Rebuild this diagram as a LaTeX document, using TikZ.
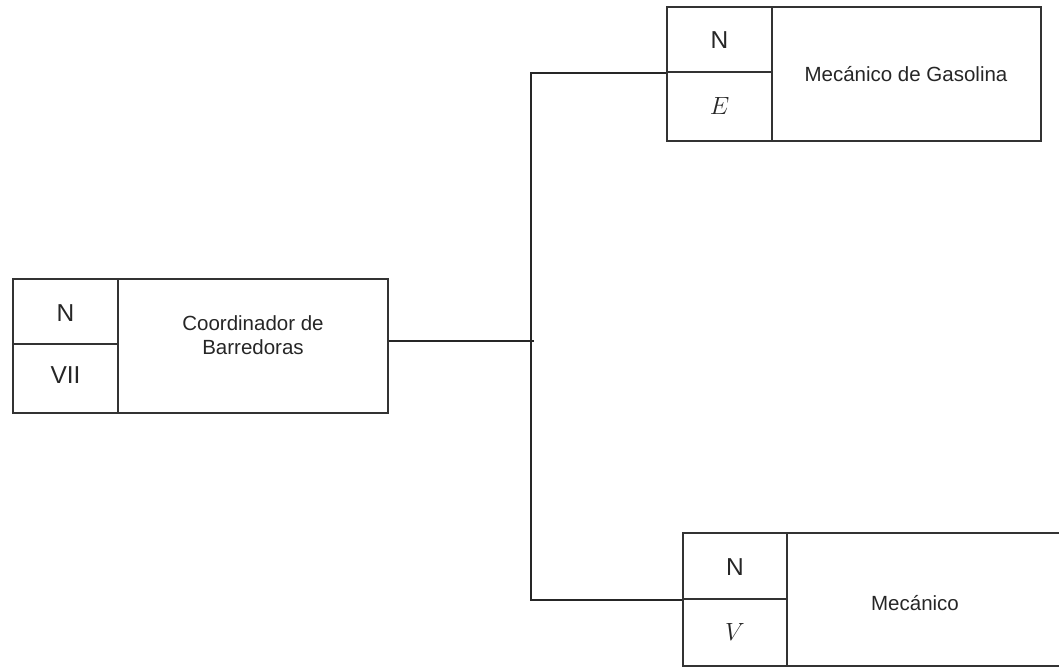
\documentclass[tikz,border=0pt]{standalone}
\usepackage{fontspec}
\setmainfont{Liberation Sans}
\begin{document}
\begin{tikzpicture}[x=1pt,y=-1pt,
  cell/.style={draw=black!80, line width=1.5pt, rectangle, inner sep=0pt, anchor=center},
  big/.style={font=\fontsize{24.5}{28}\selectfont, text=black!85},
  lab/.style={font=\fontsize{20.5}{24}\selectfont, align=center, text=black!85},
  conn/.style={draw=black!85, line width=1.7pt}]
\useasboundingbox (0,0) rectangle (1059,668);
\begin{scope}
\clip (0,0) rectangle (1059,668);
% left box
\node[cell, minimum width=105pt, minimum height=65pt] (cbN) at (65.5,311.5) {};
\node[cell, minimum width=105pt, minimum height=69pt] (cbR) at (65.5,378.5) {};
\node[cell, minimum width=270pt, minimum height=134pt] (cb) at (253,346) {};
% top box
\node[cell, minimum width=105pt, minimum height=65pt] (mgN) at (719.5,39.5) {};
\node[cell, minimum width=105pt, minimum height=69pt] (mgR) at (719.5,106.5) {};
\node[cell, minimum width=269pt, minimum height=134pt] (mg) at (906.5,74) {};
% bottom box
\node[cell, minimum width=104pt, minimum height=66pt] (mN) at (735,566) {};
\node[cell, minimum width=104pt, minimum height=67pt] (mR) at (735,632.5) {};
\node[cell, minimum width=290pt, minimum height=133pt] (m) at (932,599.5) {};
\end{scope}
% texts
\node[big] (t1) at (65.5,313) {N};
\node[big] (t2) at (65.5,375) {VII};
\node[lab] (t3) at (253,335) {Coordinador de\\Barredoras};
\node[big] (t4) at (719.5,40) {N};
\node[big] (t5) at (719.5,106) {$E$};
\node[lab] (t6) at (906,74) {Mecánico de Gasolina};
\node[big] (t7) at (735,567) {N};
\node[big] (t8) at (735,632) {$V$};
\node[lab] (t9) at (915,603) {Mecánico};
% connectors
\coordinate (j) at (531,341);
\draw[conn] (j -| cb.east) -- ([xshift=3pt]j);
\draw[conn] (mgN.south west) -- (mgN.south west -| j) -- (mN.south west -| j) -- (mN.south west);
\end{tikzpicture}
\end{document}
